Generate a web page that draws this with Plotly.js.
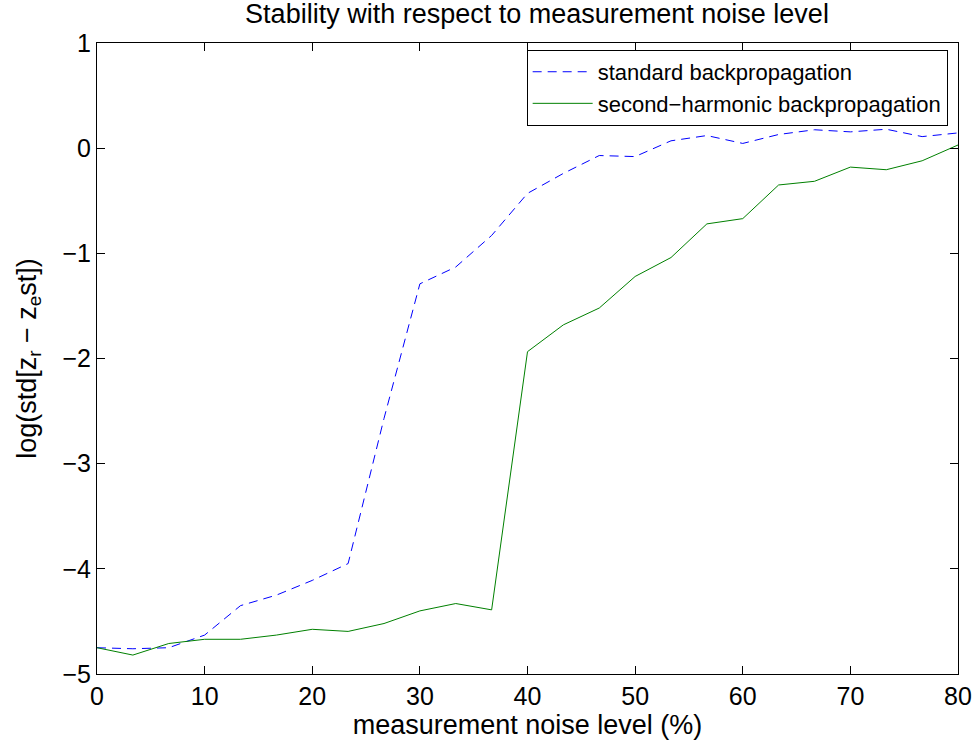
<!DOCTYPE html>
<html>
<head>
<meta charset="utf-8">
<script src="https://cdn.plot.ly/plotly-3.0.1.min.js"></script>
<style>html,body{margin:0;padding:0;background:#fff;}#chart{width:979px;height:747px;}</style>
</head>
<body>
<div id="chart"></div>
<script>
// measurement noise level (%)
const noiseLevel = [0, 3.333, 6.667, 10, 13.333, 16.667, 20, 23.333, 26.667, 30, 33.333, 36.667, 40,
  43.333, 46.667, 50, 53.333, 56.667, 60, 63.333, 66.667, 70, 73.333, 76.667, 80];
const standardBP = [-4.75, -4.76, -4.75, -4.63, -4.35, -4.25, -4.11, -3.95, -2.57, -1.29, -1.13, -0.83, -0.43,
  -0.24, -0.07, -0.08, 0.07, 0.12, 0.045, 0.13, 0.175, 0.155, 0.18, 0.11, 0.145];
const secondHarmonicBP = [-4.75, -4.82, -4.71, -4.67, -4.67, -4.63, -4.575, -4.595, -4.52, -4.40, -4.33, -4.39, -1.935,
  -1.68, -1.52, -1.22, -1.04, -0.72, -0.67, -0.35, -0.315, -0.18, -0.205, -0.12, 0.03];
const seriesNames = ["standard backpropagation", "second\u2212harmonic backpropagation"];

const font = "Liberation Sans, Arial, Helvetica, sans-serif";

const traces = [
  {x: noiseLevel, y: standardBP, type: "scatter", mode: "lines", name: seriesNames[0],
   line: {color: "#0000ff", width: 1, dash: "9px,6px"}},
  {x: noiseLevel, y: secondHarmonicBP, type: "scatter", mode: "lines", name: seriesNames[1],
   line: {color: "#008000", width: 1}}
];

const axisCommon = {
  showgrid: false, zeroline: false, showline: true, linecolor: "#000", linewidth: 1,
  mirror: "ticks", ticks: "inside", ticklen: 8, tickcolor: "#000", tickwidth: 1,
  tickfont: {family: font, size: 25, color: "#000"}
};

const layout = {
  width: 979, height: 747,
  margin: {l: 97, r: 21, t: 43, b: 73, pad: 0},
  paper_bgcolor: "#fff", plot_bgcolor: "#fff",
  font: {family: font, color: "#000"},
  title: {text: "Stability with respect to measurement noise level", font: {family: font, size: 27, color: "#000"},
          x: 537 / 979, xref: "container", xanchor: "center", y: 1 - 14 / 747, yref: "container", yanchor: "middle"},
  xaxis: Object.assign({}, axisCommon, {range: [0, 80], dtick: 10, tick0: 0,
    title: {text: "measurement noise level (%)", font: {family: font, size: 27, color: "#000"}, standoff: 5}}),
  yaxis: Object.assign({}, axisCommon, {range: [-5, 1], dtick: 1, tick0: 0,
    title: {text: "log(std[z<sub>r</sub> \u2212 z<sub>e</sub>st])", font: {family: font, size: 27, color: "#000"}, standoff: 18}}),
  showlegend: true,
  legend: {x: 0.988, y: 0.989, xanchor: "right", yanchor: "top", bgcolor: "#fff",
    bordercolor: "#000", borderwidth: 1, font: {family: font, size: 22, color: "#000"},
    itemwidth: 60, tracegroupgap: 0}
};

Plotly.newPlot("chart", traces, layout, {displayModeBar: false, staticPlot: true});
</script>
</body>
</html>
